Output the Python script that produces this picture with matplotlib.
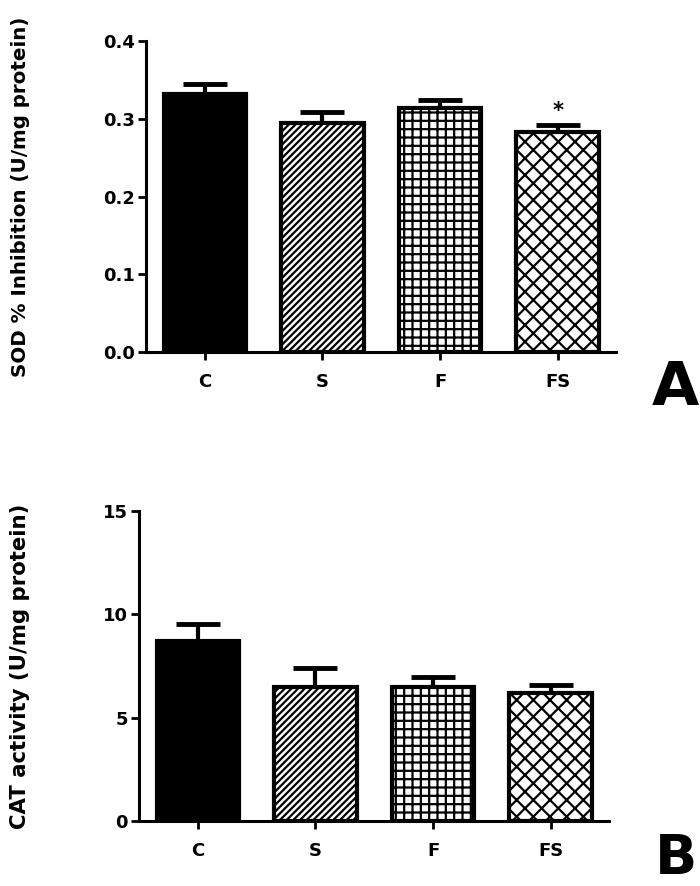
import numpy as np
import matplotlib
matplotlib.use('Agg')
import matplotlib.pyplot as plt

groups = ['C', 'S', 'F', 'FS']
hatches = ['', '/////', '++', 'xx']
colors = ['black', 'white', 'white', 'white']

sod_mean = [0.332, 0.294, 0.314, 0.283]
sod_err = [0.013, 0.015, 0.010, 0.009]
sod_stars = ['', '', '', '*']

cat_mean = [8.7, 6.5, 6.5, 6.2]
cat_err = [0.85, 0.9, 0.45, 0.4]

plt.rcParams['font.family'] = 'DejaVu Sans'
plt.rcParams['font.weight'] = 'bold'
plt.rcParams['hatch.linewidth'] = 1.6


def draw_panel(ax, means, errs, ylim, yticks, ylabel, label_x, label_size, stars=None):
    x = np.arange(len(groups))
    for i in range(len(groups)):
        ax.bar(x[i], means[i], width=0.7, color=colors[i], edgecolor='black',
               linewidth=3, hatch=hatches[i], zorder=2)
    ax.errorbar(x, means, yerr=[np.zeros(len(errs)), errs], fmt='none',
                ecolor='black', elinewidth=3, capsize=16, capthick=3.5, zorder=1)
    if stars:
        for i, s in enumerate(stars):
            if s:
                ax.text(x[i], means[i] + errs[i] + ylim[1] * 0.012, s,
                        ha='center', va='bottom', fontsize=15, fontweight='bold')
    ax.set_xlim(-0.5, 3.5)
    ax.set_ylim(*ylim)
    ax.set_yticks(yticks)
    ax.set_xticks(x)
    ax.set_xticklabels(groups, fontsize=13, fontweight='bold')
    ax.set_ylabel(ylabel, fontsize=label_size, fontweight='bold')
    ax.yaxis.set_label_coords(label_x, 0.5)
    for side in ['top', 'right']:
        ax.spines[side].set_visible(False)
    for side in ['left', 'bottom']:
        ax.spines[side].set_linewidth(2.2)
    ax.tick_params(axis='both', width=2, length=6, labelsize=13)
    ax.tick_params(axis='x', pad=9)
    ax.tick_params(axis='y', pad=2)
    for lab in ax.get_yticklabels():
        lab.set_fontweight('bold')


fig = plt.figure(figsize=(7, 8.86), dpi=100)

ax1 = fig.add_axes([0.2086, 0.6027, 0.672, 0.351])
draw_panel(ax1, sod_mean, sod_err, (0, 0.4), [0.0, 0.1, 0.2, 0.3, 0.4],
           'SOD % Inhibition (U/mg protein)', -0.246, 14.3, sod_stars)
ax1.set_yticklabels(['0.0', '0.1', '0.2', '0.3', '0.4'])

ax2 = fig.add_axes([0.1986, 0.0734, 0.672, 0.35])
draw_panel(ax2, cat_mean, cat_err, (0, 15), [0, 5, 10, 15],
           'CAT activity (U/mg protein)', -0.231, 15.3)

fig.text(0.965, 0.562, 'A', fontsize=44, fontweight='bold', ha='center', va='center')
fig.text(0.965, 0.03, 'B', fontsize=40, fontweight='bold', ha='center', va='center')

fig.savefig('out.png', dpi=100)
